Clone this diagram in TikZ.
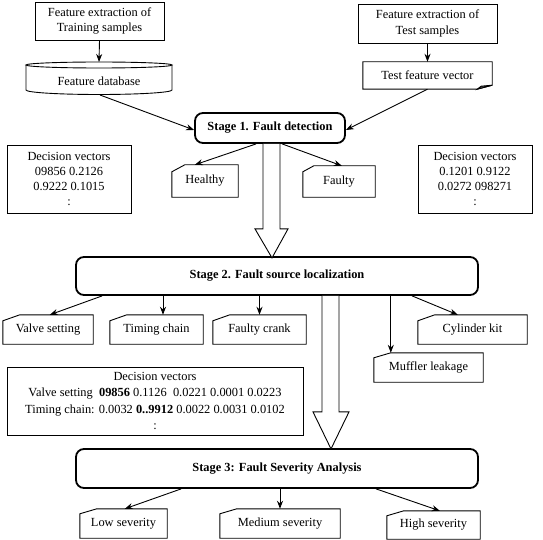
\documentclass[tikz,border=0pt]{standalone}
\usepackage{fontspec}
\setmainfont{Liberation Serif}
\usetikzlibrary{arrows.meta}
\begin{document}
\begin{tikzpicture}[x=1pt,y=-1pt,
  every node/.style={font=\fontsize{12.4}{15.3}\selectfont, inner sep=0pt, align=center},
  box/.style={draw, line width=0.9pt},
  plain/.style={draw=none},
  stagebox/.style={draw, line width=1.8pt, rounded corners=8pt, font=\fontsize{12.4}{15.3}\selectfont\bfseries},
  arr/.style={line width=0.9pt, -{Stealth[length=8pt,width=6pt]}},
  outl/.style={line width=0.9pt},
  blockarr/.style={line width=0.9pt, fill=white, line join=miter}
]
\useasboundingbox (0,0) rectangle (543,540);

% top boxes
\node[box, minimum width=129, minimum height=38] (tr) at (99.5,21) {Feature extraction of\\Training samples};
\node[box, minimum width=139, minimum height=39] (te) at (427.5,23.5) {Feature extraction of\\Test samples};

% database cylinder
\node[plain] (db) at (99,81) {Feature database};
\coordinate (dbtop) at (99,62);
\coordinate (dbbot) at (100,95);
\draw[outl] (99,65) ellipse [x radius=73, y radius=3];
\draw[outl] (26,65) -- (26,90) arc[start angle=180, end angle=0, x radius=73, y radius=4.5] -- (172,65);

% test feature vector (document shape)
\node[plain, minimum width=129, minimum height=27] (tv) at (427.5,75.5) {Test feature vector};
\draw[outl] (tv.north west) -- (tv.north east) -- ([yshift=4pt]tv.south east) -- ([xshift=-15pt]tv.south east) -- (tv.south west) -- cycle;
\draw[outl, fill=black!60] ([xshift=-15pt]tv.south east) -- ([xshift=-11pt,yshift=3pt]tv.south east) -- ([yshift=4pt]tv.south east) -- cycle;

% stage 1
\node[stagebox, minimum width=150, minimum height=30] (s1) at (270,128) {Stage 1. Fault detection};

% decision boxes top
\node[box, minimum width=124, minimum height=68] (dl) at (69,179) {Decision vectors\\09856 0.2126\\0.9222 0.1015\\:};
\node[box, minimum width=114, minimum height=68] (dr) at (475,179) {Decision vectors\\0.1201 0.9122\\0.0272 098271\\:};

% healthy / faulty
\node[plain, minimum width=66, minimum height=32] (h) at (205,181) {Healthy};
\node[plain, minimum width=72, minimum height=31] (f) at (339,181.5) {Faulty};

% stage 2
\node[stagebox, minimum width=402, minimum height=38] (s2) at (277,276) {Stage 2. Fault source localization};

\node[plain, minimum width=90, minimum height=29] (vs) at (48,329.5) {Valve setting};
\node[plain, minimum width=93, minimum height=29] (tc) at (156.5,329.5) {Timing chain};
\node[plain, minimum width=93, minimum height=29] (fc) at (259.5,329.5) {Faulty crank};
\node[plain, minimum width=109, minimum height=29] (ck) at (472.5,329.5) {Cylinder kit};
\node[plain, minimum width=109, minimum height=29] (ml) at (428.5,367.5) {Muffler leakage};

% decision box middle
\node[box, minimum width=296, minimum height=68, font=\fontsize{12.4}{16.6}\selectfont] (dv) at (155,401)
  {Decision vectors\\Valve setting\ \ \textbf{09856} 0.1126\ \ 0.0221 0.0001 0.0223\\Timing chain: 0.0032 \textbf{0..9912} 0.0022 0.0031 0.0102\\:};

% stage 3
\node[stagebox, minimum width=402, minimum height=39] (s3) at (277,468.5) {Stage 3: Fault Severity Analysis};

\node[plain, minimum width=87, minimum height=29] (ls) at (123.5,523.5) {Low severity};
\node[plain, minimum width=120, minimum height=29] (ms) at (280,523.5) {Medium severity};
\node[plain, minimum width=93, minimum height=28] (hs) at (433.5,525) {High severity};

% chamfered outlines
\foreach \n/\dx/\dy in {h/13/7, f/11/6, vs/17/6, tc/17/6, fc/17/6, ck/17/6, ml/17/5, ls/17/5, ms/17/5, hs/17/5}
  \draw[outl] ([yshift=-\dy pt]\n.north west) -- ([xshift=\dx pt]\n.north west) -- (\n.north east) -- (\n.south east) -- (\n.south west) -- cycle;

% block arrows
\draw[blockarr] ([xshift=-7pt]s1.south) -- ++(0,85) -- ++(-8,0) -- ++(17,29) -- ++(16,-29) -- ++(-8,0) -- ([xshift=10pt]s1.south);
\draw[blockarr] ([xshift=45pt]s2.south) -- ++(0,116) -- ++(-9,0) -- ++(18,37) -- ++(18,-37) -- ++(-10,0) -- ([xshift=62pt]s2.south);

% connectors
\draw[arr] (tr.south) -- (dbtop);
\draw[arr] (dbbot) -- ([yshift=-2pt]s1.west);
\draw[arr] (te.south) -- (tv.north);
\draw[arr] (tv.south) -- ([yshift=-2pt]s1.east);
\draw[arr] ([xshift=62pt]s1.south west) -- ([xshift=23pt]h.north west);
\draw[arr] ([xshift=88pt]s1.south west) -- ([xshift=39pt]f.north west);

\coordinate (tca) at ([xshift=6.5pt]tc.north);
\coordinate (mla) at ([xshift=17pt]ml.north west);
\draw[arr] ([xshift=27pt]s2.south west) -- ([xshift=47pt]vs.north west);
\draw[arr] (s2.south -| tca) -- (tca);
\draw[arr] (s2.south -| fc.north) -- (fc.north);
\draw[arr] (s2.south -| mla) -- (mla);
\draw[arr] ([xshift=337pt]s2.south west) -- ([xshift=40pt]ck.north west);

\draw[arr] ([xshift=106pt]s3.south west) -- ([xshift=45pt]ls.north west);
\draw[arr] (s3.south -| ms.north) -- (ms.north);
\draw[arr] ([xshift=301pt]s3.south west) -- ([xshift=53pt]hs.north west);
\end{tikzpicture}
\end{document}
